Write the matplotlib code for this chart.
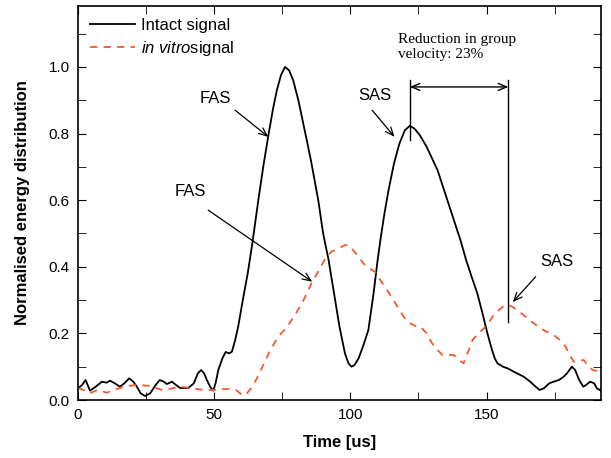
import matplotlib
matplotlib.use('Agg')
import matplotlib.pyplot as plt
from matplotlib.ticker import MultipleLocator

plt.rcParams['font.family'] = ['Liberation Sans', 'DejaVu Sans']
plt.rcParams['mathtext.fontset'] = 'custom'
plt.rcParams['mathtext.rm'] = 'Liberation Sans'
plt.rcParams['mathtext.it'] = 'Liberation Sans:italic'

# intact signal (time in us, normalised energy)
t_intact = [0, 1.5, 2.8, 4.4, 6.5, 8.8, 10.5, 11.8, 13.5, 15.4, 17, 18.8, 20.3, 21.6, 23, 24.6,
            26.5, 28.5, 30, 31.5, 32.6, 34.5, 36, 37.5, 40.5, 42.5, 44, 45.2, 46.3, 47.3, 48.5,
            49.6, 50.5, 51.5, 53, 54.2, 55.5, 56.5, 57.7, 58.8, 60.5, 62.3, 64, 66.2, 68, 69.8,
            71.5, 73, 74.5, 76, 77.5, 79, 80.9, 82.7, 85.5, 88.2, 90, 92, 94, 96, 98, 99.3,
            100.4, 101.5, 103, 104.8, 106.6, 108.5, 110, 111, 112.5, 114, 116, 118, 120, 121.8,
            123.5, 125.5, 128, 130, 132, 134, 135.6, 138, 140.4, 142.5, 144.5, 146.6, 148.5,
            150.3, 152, 153, 154, 156, 157.7, 160, 163.6, 166, 168, 169.5, 171, 173, 174.6,
            176.5, 178, 179.5, 181.3, 182.5, 184, 185.5, 186.5, 188, 189.5, 190.5, 192]
v_intact = [0.035, 0.045, 0.06, 0.028, 0.04, 0.055, 0.052, 0.058, 0.05, 0.04, 0.05, 0.065, 0.055,
            0.04, 0.02, 0.012, 0.02, 0.045, 0.06, 0.055, 0.048, 0.055, 0.045, 0.036, 0.036, 0.05,
            0.08, 0.09, 0.08, 0.06, 0.04, 0.028, 0.05, 0.09, 0.125, 0.144, 0.14, 0.145, 0.18,
            0.22, 0.3, 0.38, 0.47, 0.6, 0.7, 0.79, 0.87, 0.93, 0.975, 1.0, 0.99, 0.96, 0.9,
            0.83, 0.72, 0.6, 0.5, 0.42, 0.32, 0.22, 0.14, 0.11, 0.10, 0.105, 0.125, 0.165, 0.21,
            0.32, 0.42, 0.48, 0.56, 0.63, 0.71, 0.77, 0.81, 0.823, 0.815, 0.795, 0.76, 0.725,
            0.69, 0.64, 0.6, 0.54, 0.48, 0.42, 0.37, 0.32, 0.26, 0.2, 0.15, 0.125, 0.11, 0.1,
            0.095, 0.085, 0.07, 0.055, 0.04, 0.03, 0.035, 0.05, 0.055, 0.06, 0.068, 0.08, 0.1,
            0.09, 0.06, 0.04, 0.045, 0.055, 0.05, 0.035, 0.028]

# in vitro signal
t_vitro = [0, 2, 4.4, 7, 10.6, 13, 15.4, 18, 21.6, 24, 27, 29, 31, 34, 37.5, 40.5, 43.6, 46.5,
           49.6, 53, 56, 58, 60.2, 61.5, 63, 64, 66, 68, 70.6, 73.5, 76.8, 80, 82.8, 86, 88.5,
           90.8, 93, 95.5, 98, 99, 101, 103, 104.8, 107, 109, 111, 113.5, 115.8, 118, 120, 122,
           124, 125.7, 128, 130, 132, 133.8, 136, 138, 140, 141.5, 143, 144.8, 147, 149, 151,
           152.6, 154.5, 156.2, 158, 159.5, 161.5, 163.6, 166.5, 169.9, 172, 174.6, 177, 179,
           180.5, 182, 184, 185.7, 187.5, 189, 192]
v_vitro = [0.036, 0.03, 0.02, 0.03, 0.022, 0.03, 0.036, 0.042, 0.045, 0.044, 0.042, 0.035, 0.03,
           0.034, 0.04, 0.037, 0.033, 0.03, 0.03, 0.033, 0.033, 0.03, 0.015, 0.015, 0.03, 0.04,
           0.07, 0.105, 0.15, 0.19, 0.22, 0.26, 0.3, 0.355, 0.39, 0.425, 0.445, 0.455, 0.465,
           0.465, 0.45, 0.43, 0.41, 0.395, 0.385, 0.36, 0.33, 0.3, 0.27, 0.245, 0.23, 0.222,
           0.22, 0.2, 0.17, 0.15, 0.135, 0.135, 0.135, 0.12, 0.11, 0.14, 0.18, 0.2, 0.215, 0.235,
           0.255, 0.27, 0.282, 0.285, 0.28, 0.268, 0.255, 0.235, 0.215, 0.205, 0.195, 0.18, 0.16,
           0.135, 0.115, 0.118, 0.12, 0.1, 0.09, 0.085]

sas_intact_t = 121.8
sas_vitro_t = 158.0

# label text, text position, arrow start, arrow tip
notes = [
    ('FAS', (50.4, 0.905), (57.7, 0.87), (69.9, 0.79)),
    ('FAS', (41.2, 0.625), (47.8, 0.57), (86.0, 0.355)),
    ('SAS', (109.0, 0.915), (108.0, 0.87), (116.2, 0.79)),
    ('SAS', (175.7, 0.415), (168.0, 0.37), (159.6, 0.294)),
]

fig = plt.figure(figsize=(6.11, 4.58), dpi=100)
ax = fig.add_axes([78/611, 1 - 400/458, 523/611, 394/458])

ax.plot(t_intact, v_intact, color='black', lw=1.3, label='Intact signal')
ax.plot(t_vitro, v_vitro, color='#f05a30', lw=1.3, ls=(0, (4, 3.5)),
        label=r'$\mathit{in\ vitro}$signal')

ax.set_xlim(0, 192)
ax.set_ylim(0, 1.183)
ax.xaxis.set_major_locator(MultipleLocator(50))
ax.xaxis.set_minor_locator(MultipleLocator(25))
ax.yaxis.set_major_locator(MultipleLocator(0.2))
ax.yaxis.set_minor_locator(MultipleLocator(0.1))
ax.yaxis.set_major_formatter(plt.FuncFormatter(lambda v, p: f'{v:.1f}'))
ax.tick_params(which='both', direction='in', top=True, right=True, labelsize=11, length=6)
ax.tick_params(axis='x', pad=6)
ax.tick_params(axis='y', pad=6)
for s in ax.spines.values():
    s.set_linewidth(1.2)

ax.set_xlabel('Time [us]', fontsize=12, fontweight='bold', labelpad=9)
ax.set_ylabel('Normalised energy distribution', fontsize=12, fontweight='bold', labelpad=13)

ax.legend(loc='upper left', frameon=False, fontsize=12, handlelength=2.7,
          handletextpad=0.4, borderaxespad=0.3, labelspacing=0.35)

for label, txt, start, tip in notes:
    ax.text(txt[0], txt[1], label, fontsize=12, ha='center', va='center')
    ax.annotate('', xy=tip, xytext=start,
                arrowprops=dict(arrowstyle='->,head_length=0.6,head_width=0.25',
                                color='black', lw=0.9, shrinkA=0, shrinkB=0))

ax.plot([sas_intact_t, sas_intact_t], [0.78, 0.96], color='black', lw=1)
ax.plot([sas_vitro_t, sas_vitro_t], [0.235, 0.96], color='black', lw=1)
ax.annotate('', xy=(sas_vitro_t, 0.94), xytext=(sas_intact_t, 0.94),
            arrowprops=dict(arrowstyle='<->,head_length=0.6,head_width=0.25',
                            color='black', lw=1, shrinkA=0, shrinkB=0))
ax.text(117.6, 1.06, 'Reduction in group\nvelocity: 23%', family='Liberation Serif',
        fontsize=11, ha='left', va='center', linespacing=1.2)

fig.savefig('out.png', dpi=100)
